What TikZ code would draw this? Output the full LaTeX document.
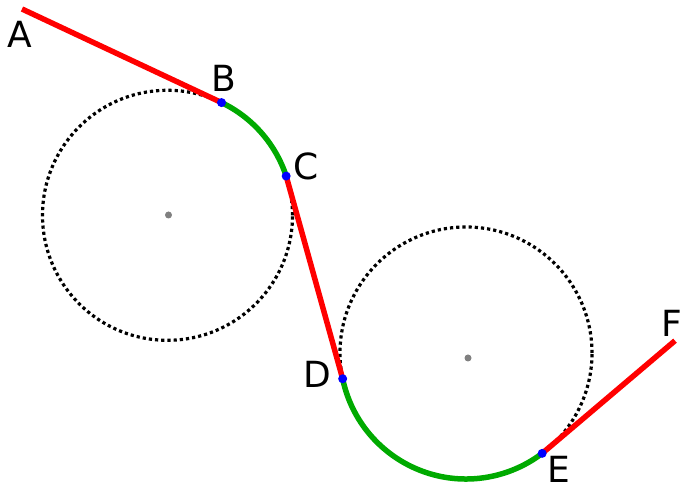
\documentclass[tikz,border=0pt]{standalone}
\usepackage{fontspec}
\setmainfont{DejaVu Sans}
\usetikzlibrary{calc}
\definecolor{myred}{RGB}{255,0,0}
\definecolor{mygreen}{RGB}{0,170,0}
\definecolor{myblue}{RGB}{0,0,255}
\definecolor{mygray}{RGB}{128,128,128}
\tikzset{
  redline/.style={draw=myred, line width=5.5pt},
  greenarc/.style={draw=mygreen, line width=5.5pt},
  dotcircle/.style={draw=black, line width=3.2pt, dash pattern=on 3.2pt off 3pt},
  tangpt/.style={circle, fill=myblue, inner sep=0pt, minimum size=9pt},
  centerpt/.style={circle, fill=mygray, inner sep=0pt, minimum size=7pt},
  lbl/.style={anchor=base, inner sep=0pt, font=\fontsize{36}{40}\selectfont},
}
\begin{document}
\begin{tikzpicture}[x=1pt, y=1pt]
\useasboundingbox (0,0) rectangle (688,492);
% circle centres
\coordinate (O1) at (167.5,276.7);
\coordinate (O2) at (466,139);
% points
\coordinate (A) at (22,483);
\coordinate (B) at ($(O1)+(64.4:125)$);
\coordinate (C) at ($(O1)+(18.3:125)$);
\coordinate (D) at ($(O2)+(191.8:126)$);
\coordinate (E) at ($(O2)+(307.2:126)$);
\coordinate (F) at (675,151.3);
% dotted circles
\draw[dotcircle] (O1) circle[radius=125];
\draw[dotcircle] (O2) circle[radius=126];
% centre marks
\node[centerpt] (c1) at (168.5,277) {};
\node[centerpt] (c2) at (468,134) {};
% red tangent segments
\draw[redline] (A) -- (B);
\draw[redline] (C) -- (D);
\draw[redline] (E) -- (F);
% green arcs
\draw[greenarc] (B) arc[start angle=64.4, end angle=18.3, radius=125];
\draw[greenarc] (D) arc[start angle=191.8, end angle=307.2, radius=126];
% tangent points
\node[tangpt] (pB) at (B) {};
\node[tangpt] (pC) at (C) {};
\node[tangpt] (pD) at (D) {};
\node[tangpt] (pE) at (E) {};
% labels
\node[lbl] (lA) at (20,444.3) {A};
\node[lbl] (lB) at (224,400.3) {B};
\node[lbl] (lC) at (306,312) {C};
\node[lbl] (lD) at (317,104) {D};
\node[lbl] (lE) at (559,9) {E};
\node[lbl] (lF) at (671.5,155.3) {F};
\end{tikzpicture}
\end{document}
